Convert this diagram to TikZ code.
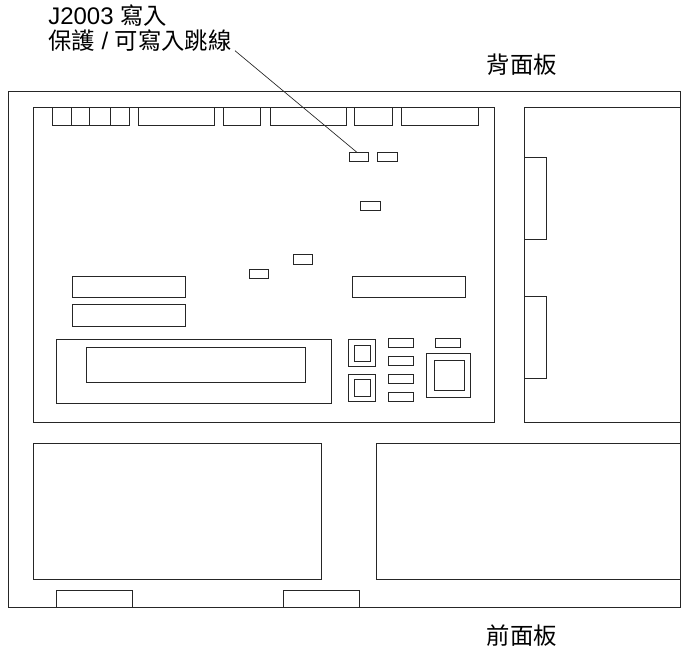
\documentclass[tikz,border=0pt]{standalone}
\usepackage{fontspec}
\setmainfont{Liberation Sans}
\newfontfamily\cjk{Noto Sans CJK TC}
\newcommand{\cjkt}[1]{{\cjk\fontsize{17.5pt}{18pt}\selectfont #1}}
\tikzset{
  x=0.75pt,y=-0.75pt,
  part/.style={draw=black!85,line width=0.75pt,inner sep=0pt,outer sep=0pt,fill=none},
  lead/.style={draw=black!85,line width=0.5pt},
  lab/.style={anchor=base west,inner sep=0pt,outer sep=0pt,font=\fontsize{18pt}{18pt}\selectfont},
  panel/.style={anchor=base west,inner sep=0pt,outer sep=0pt,font=\cjk\fontsize{17.5pt}{18pt}\selectfont}
}
\newcommand{\bx}[5]{\node[part,minimum width={(#4-#2)*0.75pt},minimum height={(#5-#3)*0.75pt}] (#1) at ({(#2+#4)/2},{(#3+#5)/2}) {};}
\begin{document}
\begin{tikzpicture}
\useasboundingbox (0,0) rectangle (682,652);
\bx{outer}{8.7}{91.5}{680.7}{607.5}
\bx{board}{33}{107.5}{494.3}{422.3}
\bx{rpanel}{524}{107.5}{680.7}{422.3}
\bx{fl}{33}{443.3}{321}{579.7}
\bx{fr}{376.7}{443.3}{680.7}{579.7}
% top connectors
\bx{ta}{52.3}{107.5}{71}{125.5}
\bx{tb}{71}{107.5}{89.3}{125.5}
\bx{tc}{89.3}{107.5}{110.5}{125.5}
\bx{td}{110.5}{107.5}{129}{125.5}
\bx{te}{138.5}{107.5}{214.7}{125.5}
\bx{tf}{223.7}{107.5}{260.7}{125.5}
\bx{tg}{270.3}{107.5}{346.7}{125.5}
\bx{th}{354.5}{107.5}{392}{125.5}
\bx{ti}{401.3}{107.5}{478}{125.5}
% jumpers
\bx{j2003}{349.5}{152.7}{368.7}{161.3}
\bx{jb}{377.7}{152.7}{397}{161.3}
\bx{jc}{360.7}{201.7}{380.5}{211}
\bx{jd}{293.3}{255}{312.7}{264.3}
\bx{je}{249}{269.3}{268.3}{278.7}
% board slots
\bx{sa}{72.7}{276.3}{185}{298}
\bx{sb}{72.7}{304.7}{185}{326.7}
\bx{sc}{352.7}{276.3}{465}{298}
\bx{big}{56.7}{339.3}{331.7}{403.7}
\bx{bigin}{86}{347.3}{305}{382.3}
% squares
\bx{qa}{348.3}{339.7}{375.3}{366.3}
\bx{qai}{354}{345.3}{370.3}{361.3}
\bx{qb}{348.3}{374.3}{375.3}{401.3}
\bx{qbi}{354}{379.7}{370.3}{396}
\bx{ma}{388.3}{338.7}{413.3}{348}
\bx{mb}{388.3}{356.3}{413.3}{365.7}
\bx{mc}{388.3}{374.3}{413.3}{383.7}
\bx{md}{388.3}{392}{413.3}{401.3}
\bx{me}{435.7}{338.7}{460.3}{348}
\bx{la}{426.3}{353.3}{470.7}{397.3}
\bx{lai}{434}{360.7}{464.3}{390.7}
% right panel slots
\bx{ra}{524}{157.3}{546.7}{239.3}
\bx{rb}{524}{296.7}{546.7}{378.7}
% front tabs
\bx{fa}{56}{590.3}{132.6}{607.5}
\bx{fb}{283}{590.3}{359.3}{607.5}
% labels
\node[lab] (l1) at (48.3,25) {J2003 \cjkt{寫入}};
\node[lab] (l2) at (48.3,50) {\cjkt{保護} / \cjkt{可寫入跳線}};
\node[panel] (back) at (486.7,74) {背面板};
\node[panel] (front) at (486.7,644) {前面板};
\coordinate (leadstart) at (235,50.7);
\draw[lead] (leadstart) -- ([xshift=-1.3pt]j2003.north);
\end{tikzpicture}
\end{document}
